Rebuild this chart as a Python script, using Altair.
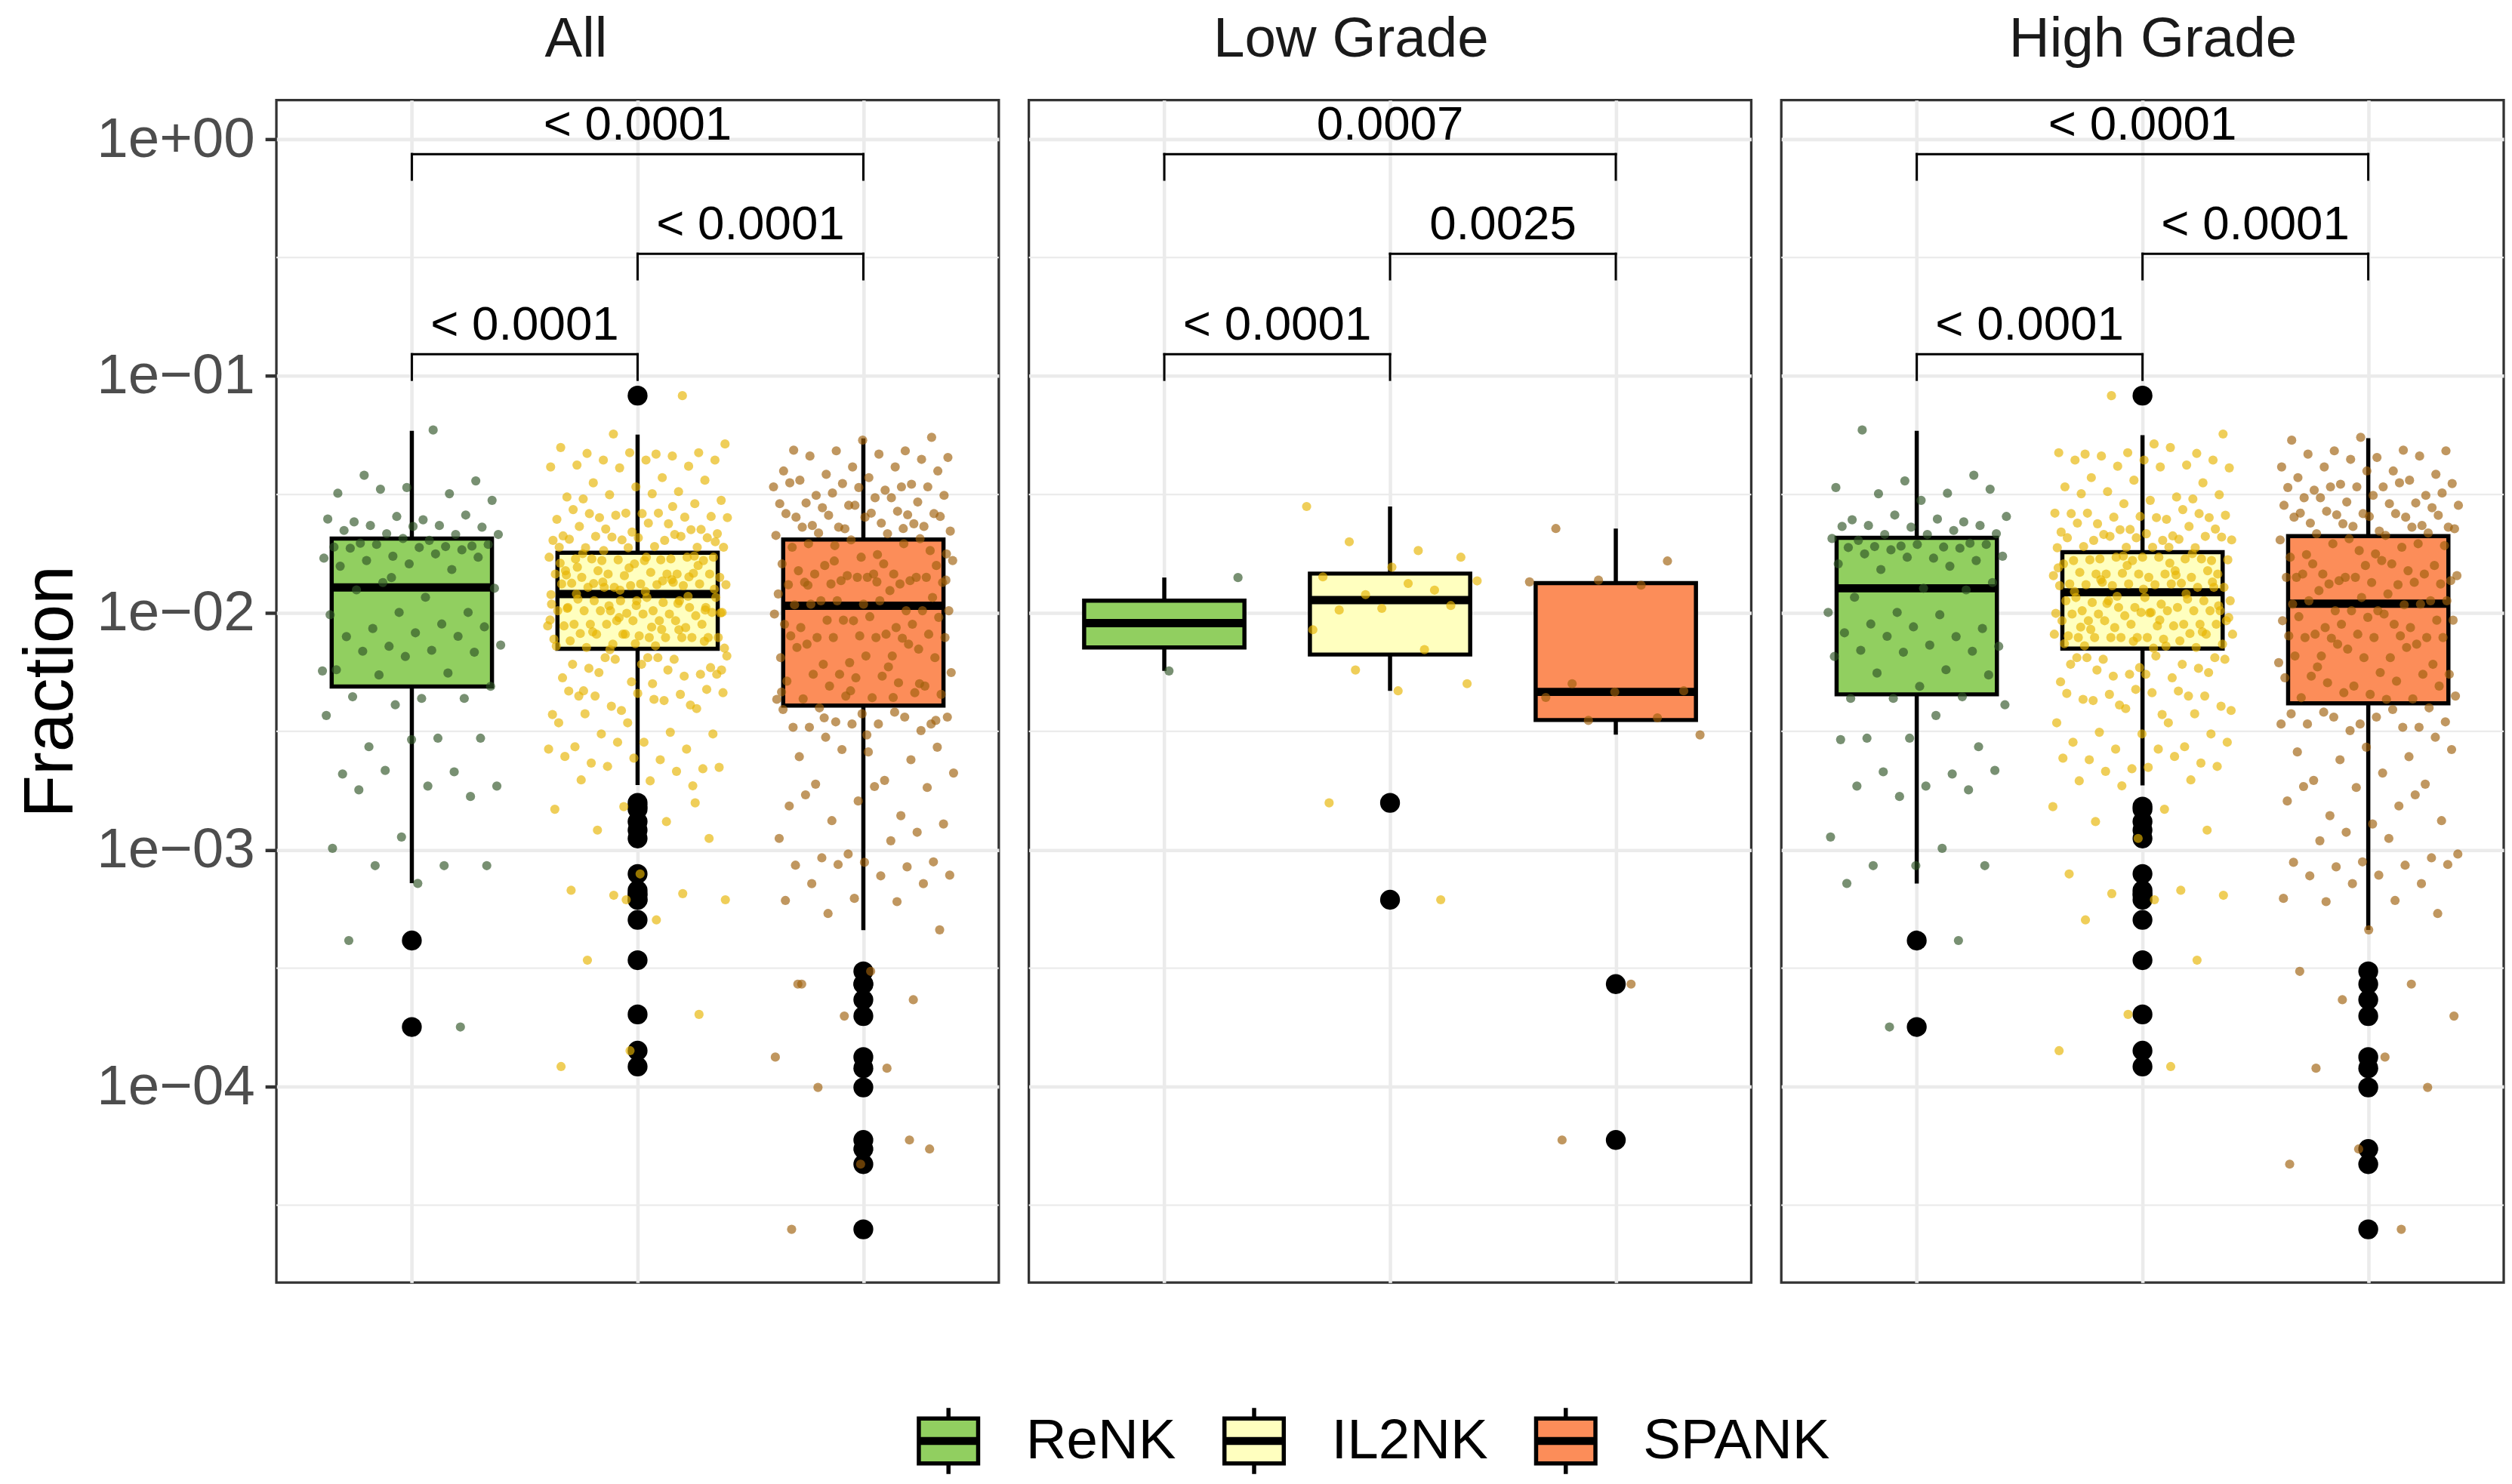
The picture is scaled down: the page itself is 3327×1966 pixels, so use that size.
import altair as alt
import pandas as pd

FONT = "Liberation Sans"
GRID = "#EBEBEB"

groups = ["ReNK", "IL2NK", "SPANK"]
panels = ["All", "Low Grade", "High Grade"]
box_fill_colors = ["#91CF60", "#FFFFBF", "#FC8D59"]
point_colors = ["#2F5527", "#E6B400", "#9E5F0A"]

y_tick_values = [1, 0.1, 0.01, 0.001, 0.0001]
y_tick_labels = ["1e+00", "1e\u221201", "1e\u221202", "1e\u221203", "1e\u221204"]
y_minor_breaks = [0.3162, 0.03162, 0.003162, 0.0003162, 0.00003162]
y_domain = [1.49e-5, 1.46]

# sample values, log10(Fraction)
hg_renk_log10 = [
    -1.228, -1.419, -1.443, -1.471, -1.495, -1.497, -1.478, -1.525, -1.607, -1.616,
    -1.587, -1.593, -1.604, -1.631, -1.631, -1.638, -1.635, -1.652, -1.669, -1.666,
    -1.669, -1.694, -1.706, -1.718, -1.686, -1.722, -1.720, -1.711, -1.711, -1.724,
    -1.727, -1.734, -1.761, -1.769, -1.751, -1.779, -1.765, -1.793, -1.803, -1.817,
    -1.872, -1.896, -1.934, -1.903, -1.998, -1.998, -2.008, -2.047, -2.066, -2.059,
    -2.084, -2.100, -2.099, -2.141, -2.136, -2.158, -2.162, -2.166, -2.184, -2.240,
    -2.254, -2.262, -2.310, -2.361, -2.354, -2.361, -2.388, -2.433, -2.529, -2.565,
    -2.529, -2.535, -2.680, -2.671, -2.665, -2.731, -2.731, -2.747, -2.775, -2.946,
    -2.994, -3.067, -3.067, -3.067, -3.142, -3.383, -3.748,
]
hg_il2nk_log10 = [
    -1.083,
    -1.245, -1.287, -1.330, -1.327, -1.324, -1.324, -1.302, -1.338, -1.355, -1.355,
    -1.355, -1.376, -1.381, -1.388, -1.384, -1.429, -1.451, -1.440, -1.468, -1.511,
    -1.488, -1.501, -1.525, -1.497, -1.519, -1.539, -1.579, -1.605, -1.624, -1.598,
    -1.593, -1.581, -1.564, -1.596, -1.588, -1.598, -1.579, -1.581, -1.648, -1.659,
    -1.675, -1.669, -1.646, -1.666, -1.621, -1.635, -1.649, -1.692, -1.694, -1.694,
    -1.677, -1.683, -1.683, -1.689, -1.677, -1.680, -1.723, -1.720, -1.725, -1.723,
    -1.725, -1.723,
    -1.772, -1.779, -1.765, -1.779, -1.772, -1.765, -1.776, -1.765, -1.776, -1.772,
    -1.779, -1.793, -1.822, -1.836, -1.836, -1.850, -1.829, -1.850, -1.833, -1.843,
    -1.836, -1.836, -1.822, -1.836, -1.878, -1.875, -1.885, -1.892, -1.881, -1.881,
    -1.892, -1.878, -1.885, -1.878, -1.871, -1.892, -1.935, -1.935, -1.942, -1.977,
    -1.949, -1.963, -1.956, -1.949, -1.977, -1.949, -1.977, -1.949, -1.991, -1.998,
    -1.991, -1.991, -2.012, -2.002, -1.991, -2.005, -1.991, -1.998, -2.005, -2.048,
    -2.062, -2.033, -2.055, -2.033, -2.048, -2.048, -2.033, -2.055, -2.033, -2.048,
    -2.104, -2.104, -2.087, -2.104, -2.090, -2.111, -2.104, -2.090, -2.104, -2.097,
    -2.118, -2.104, -2.132, -2.149, -2.139, -2.146,
    -1.80, -1.81, -1.79, -1.86, -1.87, -1.90, -1.91, -1.92, -1.93, -2.02,
    -2.03, -2.07, -2.08, -2.12, -2.13, -1.84, -1.96, -1.97, -2.00, -2.06,
    -1.75, -1.76, -2.09, -2.14,
    -2.241, -2.252, -2.231, -2.217, -2.217, -2.267, -2.196, -2.182, -2.189, -2.234,
    -2.259, -2.291, -2.274, -2.196, -2.189, -2.259, -2.189, -2.351, -2.389, -2.412,
    -2.429, -2.370, -2.351, -2.323, -2.340, -2.330, -2.344, -2.394, -2.337, -2.365,
    -2.426, -2.404, -2.464, -2.464, -2.504, -2.511, -2.511, -2.546, -2.565, -2.575,
    -2.546, -2.575, -2.620, -2.634, -2.658, -2.613, -2.606, -2.669, -2.648, -2.652,
    -2.709, -2.705, -2.730, -2.818, -2.829, -2.881, -2.917, -2.952, -3.102, -3.171,
    -3.185, -3.192, -3.211, -3.296, -3.466, -3.695, -3.848, -3.915,
]
hg_spank_log10 = [
    -1.259, -1.271, -1.313, -1.316, -1.316, -1.344, -1.330, -1.338, -1.352, -1.384,
    -1.401, -1.384, -1.415, -1.401, -1.429, -1.440, -1.457, -1.454, -1.468, -1.482,
    -1.504, -1.468, -1.471, -1.451, -1.468, -1.494, -1.504, -1.514, -1.536, -1.532,
    -1.546, -1.539, -1.514, -1.556, -1.581, -1.596, -1.596, -1.586, -1.638, -1.655,
    -1.621, -1.631, -1.635, -1.546, -1.581, -1.571, -1.588, -1.593, -1.579, -1.638,
    -1.624, -1.645, -1.673, -1.666, -1.663,
    -1.737, -1.765, -1.723, -1.708, -1.716, -1.751, -1.754, -1.708, -1.687, -1.692,
    -1.793, -1.836, -1.800, -1.800, -1.850, -1.822, -1.864, -1.864, -1.779, -1.793,
    -1.836, -1.850, -1.850, -1.881, -1.878, -1.878, -1.872, -1.836, -1.871, -1.850,
    -1.843, -1.920, -1.906, -1.949, -1.935, -1.963, -1.966, -1.991, -1.949, -1.991,
    -1.949, -1.963, -1.991, -2.033, -2.048, -2.062, -2.031, -2.019, -2.016, -2.062,
    -2.048, -2.031, -2.005, -2.090, -2.104, -2.090, -2.097, -2.097, -2.107, -2.104,
    -2.104, -2.104, -2.132, -2.153, -2.210, -2.189, -2.182, -2.217, -2.189, -2.182,
    -2.146, -2.132, -2.259, -2.252, -2.267, -2.259, -2.309, -2.274, -2.288, -2.295,
    -2.309, -2.344, -2.358, -2.363, -2.337, -2.351, -2.365, -2.228,
    -2.401, -2.469, -2.426, -2.483, -2.440, -2.460, -2.440, -2.469, -2.483, -2.497,
    -2.469, -2.408, -2.419, -2.525, -2.567, -2.587, -2.607, -2.620, -2.577, -2.676,
    -2.707, -2.723, -2.737, -2.794, -2.815, -2.856, -2.877, -2.891, -2.733, -2.768,
    -2.926, -3.018, -2.952, -2.962, -3.034, -3.051, -3.053, -3.065, -3.072, -3.062,
    -3.107, -3.110, -3.143, -3.143, -3.205, -3.214, -3.219, -3.269, -3.338, -3.513,
    -3.567, -3.633, -3.702, -3.875, -3.922, -4.003, -4.263, -4.327, -4.602,
]
lg_renk_log10 = [-1.851, -2.245]
lg_il2nk_log10 = [
    -1.551, -1.737, -1.700, -1.765, -1.807, -1.848, -1.904, -1.923, -1.865, -1.876,
    -1.988, -1.969, -1.981, -2.071, -2.155, -2.241, -2.299, -2.329, -2.802, -3.211,
]
lg_spank_log10 = [
    -1.644, -1.781, -1.862, -1.869, -1.883, -2.299, -2.329, -2.334, -2.357, -2.443,
    -2.454, -2.515, -3.567, -4.225,
]

# box statistics: [lower whisker, Q1, median, Q3, upper whisker] for ReNK, IL2NK, SPANK
box_all = [
    [0.000723, 0.00489, 0.0128, 0.0206, 0.0587],
    [0.001876, 0.00705, 0.0120, 0.01795, 0.0566],
    [0.000458, 0.00406, 0.01072, 0.0204, 0.0545],
]
box_low = [
    [0.00569, 0.00715, 0.00905, 0.01127, 0.0141],
    [0.00469, 0.00667, 0.01133, 0.01465, 0.0281],
    [0.00306, 0.00353, 0.00464, 0.01336, 0.0227],
]
box_high = [
    [0.000721, 0.00453, 0.0127, 0.02075, 0.0587],
    [0.00187, 0.00707, 0.01222, 0.01805, 0.0563],
    [0.000459, 0.00415, 0.01093, 0.0211, 0.0546],
]

bracket_pairs = [("ReNK", "IL2NK"), ("IL2NK", "SPANK"), ("ReNK", "SPANK")]
bracket_y = [0.1235, 0.328, 0.864]
p_labels_all = ["< 0.0001", "< 0.0001", "< 0.0001"]
p_labels_low = ["< 0.0001", "0.0025", "0.0007"]
p_labels_high = ["< 0.0001", "< 0.0001", "< 0.0001"]

# ---------------------------------------------------------------------------
samples = {
    "Low Grade": {"ReNK": lg_renk_log10, "IL2NK": lg_il2nk_log10, "SPANK": lg_spank_log10},
    "High Grade": {"ReNK": hg_renk_log10, "IL2NK": hg_il2nk_log10, "SPANK": hg_spank_log10},
}
samples["All"] = {g: samples["High Grade"][g] + samples["Low Grade"][g] for g in groups}
box_stats = {"All": box_all, "Low Grade": box_low, "High Grade": box_high}
p_labels = {"All": p_labels_all, "Low Grade": p_labels_low, "High Grade": p_labels_high}
title_dx = [-82, -52, 14]

PANEL_W = 962
PANEL_H = 1575
HALF_BOX = 0.355
JITTER = 0.4
TIP_RATIO = 0.78
GOLDEN = 0.6180339887

label_expr = " : ".join(
    f"abs(datum.value - {v}) < {v * 0.01} ? '{lab}'" for v, lab in zip(y_tick_values, y_tick_labels)
) + " : ''"

legend_path = ("M-0.79,-0.6H0.79V0.6H-0.79Z M0,-0.6V-0.88 M0,0.6V0.88 "
               "M-0.79,-0.05H0.79 M-0.79,0.05H0.79")

legend = alt.Legend(
    title=None, orient="none", legendX=842, legendY=1733, direction="horizontal",
    symbolType=legend_path, symbolSize=10000, symbolStrokeColor="black",
    symbolStrokeWidth=5.5, labelFontSize=75, labelFont=FONT, labelColor="black",
    labelOffset=50, columnPadding=50, padding=0, labelLimit=500,
)

minor_df = pd.DataFrame({"value": y_minor_breaks})


def make_panel(pi, p):
    first = pi == 0
    stats = box_stats[p]
    xs = alt.Scale(domain=[0.4, 3.6], nice=False, zero=False)
    ys = alt.Scale(type="log", domain=y_domain, nice=False)
    xa = alt.Axis(values=[1, 2, 3], grid=True, gridColor=GRID, gridWidth=4.6,
                  labels=False, ticks=False, domain=False, minExtent=0)
    if first:
        ya = alt.Axis(values=y_tick_values, labelExpr=label_expr, grid=True,
                      gridColor=GRID, gridWidth=4.6, domain=False,
                      labelFontSize=75, labelFont=FONT, labelColor="#4D4D4D",
                      labelPadding=14, labelLimit=500, tickSize=15, tickWidth=4.5,
                      tickColor="#333333", maxExtent=500,
                      titleFontSize=93, titleFont=FONT, titleFontWeight="normal",
                      titleColor="black", titlePadding=12)
        ytitle = "Fraction"
    else:
        ya = alt.Axis(values=y_tick_values, grid=True, gridColor=GRID, gridWidth=4.6,
                      domain=False, labels=False, ticks=False, minExtent=0)
        ytitle = None

    def X(f):
        return alt.X(f, type="quantitative", scale=xs, axis=xa, title=None)

    def Y(f):
        return alt.Y(f, type="quantitative", scale=ys, axis=ya, title=ytitle)

    prow, orow, brow = [], [], []
    for gi, g in enumerate(groups):
        lo, q1, med, q3, hi = stats[gi]
        brow.append(dict(group=g, gx=gi + 1, xl=gi + 1 - HALF_BOX, xr=gi + 1 + HALF_BOX,
                         lo=lo, q1=q1, med=med, q3=q3, hi=hi))
        for k, lv in enumerate(samples[p][g]):
            v = 10 ** lv
            u = ((k + 1) * GOLDEN + 0.29 * pi + 0.13 * gi) % 1.0
            prow.append(dict(group=g, x=gi + 1 + 2 * JITTER * (u - 0.5), value=v))
            if v < lo / 1.04 or v > hi * 1.04:
                orow.append(dict(group=g, gx=gi + 1, value=v))
    pts = pd.DataFrame(prow)
    outs = pd.DataFrame(orow)
    boxes = pd.DataFrame(brow)

    hrow, lrow, trow = [], [], []
    for (a, b), yb, lab in zip(bracket_pairs, bracket_y, p_labels[p]):
        xa_ = groups.index(a) + 1
        xb_ = groups.index(b) + 1
        hrow.append(dict(xa=xa_, xb=xb_, yb=yb))
        lrow.append(dict(x=xa_, y1=yb, y2=yb * TIP_RATIO))
        lrow.append(dict(x=xb_, y1=yb, y2=yb * TIP_RATIO))
        trow.append(dict(xm=(xa_ + xb_) / 2, yb=yb, label=lab))
    hdf, ldf, tdf = pd.DataFrame(hrow), pd.DataFrame(lrow), pd.DataFrame(trow)

    minor = alt.Chart(minor_df).mark_rule(color=GRID, strokeWidth=2.3).encode(y=Y("value"))
    whisk = alt.Chart(boxes).mark_rule(color="black", strokeWidth=5.5).encode(
        x=X("gx"), y=Y("lo"), y2="hi")
    box = alt.Chart(boxes).mark_rect(stroke="black", strokeWidth=5.5).encode(
        x=X("xl"), x2="xr", y=Y("q1"), y2="q3",
        fill=alt.Fill("group:N", scale=alt.Scale(domain=groups, range=box_fill_colors),
                      legend=legend))
    median = alt.Chart(boxes).mark_rule(color="black", strokeWidth=11).encode(
        x=X("xl"), x2="xr", y=Y("med"))
    outl = alt.Chart(outs).mark_circle(color="black", size=700, opacity=1).encode(
        x=X("gx"), y=Y("value"))
    jit = alt.Chart(pts).mark_circle(size=150, opacity=0.65).encode(
        x=X("x"), y=Y("value"),
        color=alt.Color("group:N", scale=alt.Scale(domain=groups, range=point_colors),
                        legend=None))
    hbar = alt.Chart(hdf).mark_rule(color="black", strokeWidth=3, strokeCap="square").encode(
        x=X("xa"), x2="xb", y=Y("yb"))
    legs = alt.Chart(ldf).mark_rule(color="black", strokeWidth=3, strokeCap="square").encode(
        x=X("x"), y=Y("y1"), y2="y2")
    txt = alt.Chart(tdf).mark_text(fontSize=64, font=FONT, color="black",
                                   baseline="alphabetic", dy=-19).encode(
        x=X("xm"), y=Y("yb"), text="label:N")

    return alt.layer(minor, whisk, box, median, outl, jit, hbar, legs, txt).properties(
        width=PANEL_W, height=PANEL_H,
        title=alt.TitleParams(p, fontSize=75, font=FONT, fontWeight="normal",
                              color="#1A1A1A", anchor="middle", frame="group",
                              dx=title_dx[pi], offset=42),
    )


chart = alt.hconcat(*[make_panel(i, p) for i, p in enumerate(panels)], spacing=34).properties(
    padding={"left": 12, "top": 0, "right": 0, "bottom": 0}, background="white"
).configure_view(stroke="#333333", strokeWidth=3.3)

chart.save("out.html", embed_options={"renderer": "svg", "actions": False})
